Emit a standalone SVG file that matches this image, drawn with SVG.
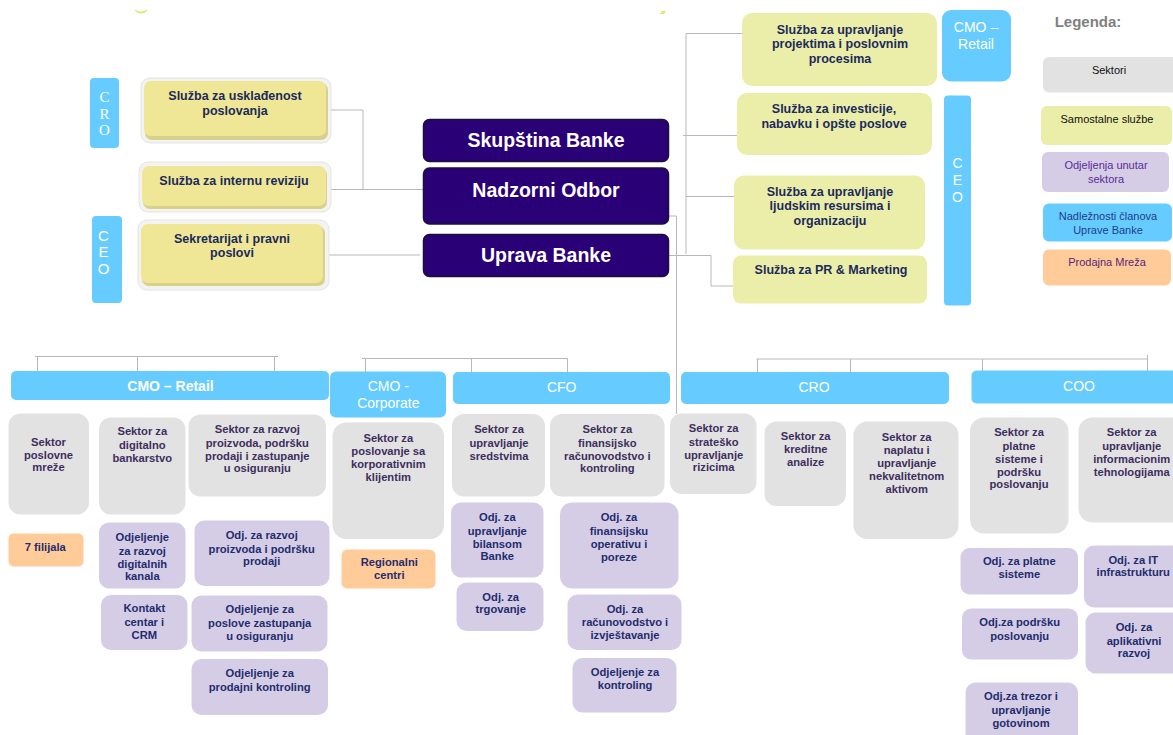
<svg xmlns="http://www.w3.org/2000/svg" width="1173" height="735" viewBox="0 0 1173 735">
<style>
.c{stroke:#b8b8b8;stroke-width:1;fill:none}
.sec{fill:#e2e2e2}
.odj{fill:#d5cde6}
.hdr{fill:#66ccff}
.org{fill:#ffcc99}
.yl{fill:#ebeea9}
.ylo{fill:#f3f3f1;stroke:#e4e4e4;stroke-width:1}
.yls{fill:#d8d18c}
.yli{fill:#efe795}
.dk{fill:#290075;stroke:#1a1038;stroke-width:1.5}
text{font-family:"Liberation Sans",Arial,sans-serif;text-anchor:middle}
.ts{font-size:11.2px;font-weight:bold;fill:#3e2e60}
.to{font-size:11.2px;font-weight:bold;fill:#1f2c6e}
.ty{font-size:12.5px;font-weight:bold;fill:#1b2a5c}
.th{font-size:14px;fill:#ffffff}
.thb{font-size:14px;font-weight:bold;fill:#ffffff}
.tb{font-size:19.5px;font-weight:bold;fill:#ffffff}
.tv{font-size:14px;fill:#ffffff}
.tvs{font-family:"Liberation Serif","Times New Roman",serif;font-size:15px;fill:#ffffff}
.tl{font-size:11px}
</style>
<rect width="1173" height="735" fill="#ffffff"/>
<path d="M134,10 Q141,17 148,10 L146,10 Q141,13.5 136,10 Z" fill="#dfe86e"/>
<path d="M660,14 L662,11 L666,11 L664,14 Z" fill="#dfe86e"/>

<g id="connectors">
<polyline class="c" points="330,110 363,110 363,189"/>
<line class="c" x1="328" y1="189.5" x2="423" y2="189.5"/>
<line class="c" x1="322" y1="255" x2="420" y2="255"/>
<polyline class="c" points="742,33.5 686,33.5 686,254"/>
<line class="c" x1="683" y1="135.5" x2="737" y2="135.5"/>
<line class="c" x1="686" y1="196.5" x2="734" y2="196.5"/>
<polyline class="c" points="668,255.5 711,255.5 711,286 733,286"/>
<polyline class="c" points="668,216 676.5,216 676.5,414"/>
<polyline class="c" points="35,356.5 278,356.5"/>
<line class="c" x1="37.5" y1="356.5" x2="37.5" y2="371"/>
<line class="c" x1="137.5" y1="356.5" x2="137.5" y2="371"/>
<line class="c" x1="274.5" y1="356.5" x2="274.5" y2="371"/>
<polyline class="c" points="362,358.5 567.5,358.5"/>
<line class="c" x1="365.5" y1="358.5" x2="365.5" y2="372"/>
<line class="c" x1="471.5" y1="358.5" x2="471.5" y2="372"/>
<line class="c" x1="567.5" y1="358.5" x2="567.5" y2="372"/>
<polyline class="c" points="756.5,359 1147.5,359"/>
<line class="c" x1="757.5" y1="359" x2="757.5" y2="372"/>
<line class="c" x1="850.5" y1="359" x2="850.5" y2="372"/>
<line class="c" x1="982.5" y1="359" x2="982.5" y2="371"/>
<line class="c" x1="1147.5" y1="355" x2="1147.5" y2="371"/>
</g>

<!-- Left side -->
<g id="cro-left">
<rect class="hdr" x="90" y="78" width="29" height="70" rx="4"/>
<text class="tvs"><tspan x="104.5" y="102">C</tspan><tspan x="104.5" y="118.5">R</tspan><tspan x="104.5" y="134.5">O</tspan></text>
</g>
<g id="usklad">
<rect class="ylo" x="141" y="78" width="190" height="65" rx="9"/>
<rect class="yls" x="145" y="83" width="183" height="57" rx="7"/>
<rect class="yli" x="144" y="81" width="182" height="55" rx="7"/>
<text class="ty"><tspan x="235" y="100">Služba za usklađenost</tspan><tspan x="235" y="115">poslovanja</tspan></text>
</g>
<g id="revizija">
<rect class="ylo" x="139" y="162" width="192" height="50" rx="9"/>
<rect class="yls" x="143" y="168" width="184" height="41" rx="7"/>
<rect class="yli" x="142" y="166" width="184" height="40" rx="7"/>
<text class="ty" x="234" y="185">Služba za internu reviziju</text>
</g>
<g id="ceo-left">
<rect class="hdr" x="92" y="216" width="30" height="87" rx="4"/>
<text class="tv" style="font-size:15px"><tspan x="103.5" y="240.5">C</tspan><tspan x="103.5" y="257">E</tspan><tspan x="103.5" y="273.5">O</tspan></text>
</g>
<g id="sekretarijat">
<rect class="ylo" x="138" y="220" width="191" height="70" rx="9"/>
<rect class="yls" x="142" y="226" width="183" height="60" rx="7"/>
<rect class="yli" x="141" y="224" width="182" height="59" rx="7"/>
<text class="ty"><tspan x="232" y="242.5">Sekretarijat i pravni</tspan><tspan x="232" y="257">poslovi</tspan></text>
</g>

<!-- Center -->
<g id="skupstina">
<rect class="dk" x="423.5" y="119.5" width="245" height="42" rx="6"/>
<text class="tb" x="546" y="147">Skupština Banke</text>
</g>
<g id="nadzorni">
<rect class="dk" x="423.5" y="168" width="245" height="56" rx="6"/>
<text class="tb" x="546" y="197">Nadzorni Odbor</text>
</g>
<g id="uprava">
<rect class="dk" x="423.5" y="234.5" width="245" height="42" rx="6"/>
<text class="tb" x="546" y="262">Uprava Banke</text>
</g>

<!-- Right top -->
<g id="projekti">
<rect class="yl" x="742" y="13" width="195" height="73" rx="10"/>
<text class="ty"><tspan x="840" y="33.5">Služba za upravljanje</tspan><tspan x="840" y="48">projektima i poslovnim</tspan><tspan x="840" y="63">procesima</tspan></text>
</g>
<g id="investicije">
<rect class="yl" x="737" y="93" width="195" height="62" rx="10"/>
<text class="ty"><tspan x="834" y="113">Služba za investicije,</tspan><tspan x="834" y="128">nabavku i opšte poslove</tspan></text>
</g>
<g id="ljudski">
<rect class="yl" x="734" y="175.5" width="191" height="74" rx="10"/>
<text class="ty"><tspan x="830" y="195.5">Služba za upravljanje</tspan><tspan x="830" y="210">ljudskim resursima i</tspan><tspan x="830" y="225">organizaciju</tspan></text>
</g>
<g id="pr">
<rect class="yl" x="733" y="255.5" width="194" height="48" rx="8"/>
<text class="ty" x="831" y="273.5">Služba za PR &amp; Marketing</text>
</g>
<g id="cmo-retail-top">
<rect class="hdr" x="942" y="10" width="69" height="71.5" rx="9"/>
<text class="th"><tspan x="976" y="31.5">CMO –</tspan><tspan x="976" y="49">Retail</tspan></text>
</g>
<g id="ceo-right">
<rect class="hdr" x="944" y="95.5" width="27" height="210" rx="4"/>
<text class="tv"><tspan x="957.5" y="167.5">C</tspan><tspan x="957.5" y="185">E</tspan><tspan x="957.5" y="201.5">O</tspan></text>
</g>

<!-- Legend -->
<g id="legend">
<text x="1088" y="27" style="font-size:15px;font-weight:bold;fill:#7f7f7f">Legenda:</text>
<rect class="sec" x="1043" y="57" width="140" height="35.5" rx="6"/>
<text class="tl" x="1109" y="74" fill="#111111">Sektori</text>
<rect class="yl" x="1041" y="106" width="131" height="39" rx="6"/>
<text class="tl" x="1107" y="123" fill="#111111">Samostalne službe</text>
<rect class="odj" x="1042" y="152" width="127" height="40" rx="6"/>
<text class="tl" fill="#5a2c9a"><tspan x="1106" y="168.5">Odjeljenja unutar</tspan><tspan x="1106" y="182.5">sektora</tspan></text>
<rect class="hdr" x="1043" y="203.5" width="129" height="38" rx="6"/>
<text class="tl" fill="#1d3c8c"><tspan x="1108" y="219.5">Nadležnosti članova</tspan><tspan x="1108" y="233.5">Uprave Banke</tspan></text>
<rect class="org" x="1043" y="249.5" width="128" height="36" rx="6"/>
<text class="tl" x="1107" y="266" fill="#5a1f7a">Prodajna Mreža</text>
</g>

<!-- CMO Retail -->
<g id="hdr-cmo-retail">
<rect class="hdr" x="11" y="371" width="318" height="29" rx="5"/>
<text class="thb" x="170.5" y="391">CMO – Retail</text>
</g>
<g id="sek-poslovne-mreze">
<rect class="sec" x="8.5" y="413.5" width="80.5" height="101" rx="12"/>
<text class="ts"><tspan x="48.5" y="446">Sektor</tspan><tspan x="48.5" y="458.5">poslovne</tspan><tspan x="48.5" y="471">mreže</tspan></text>
</g>
<g id="sek-digitalno">
<rect class="sec" x="99" y="417.5" width="86.5" height="97" rx="12"/>
<text class="ts"><tspan x="142.3" y="435">Sektor za</tspan><tspan x="142.3" y="449">digitalno</tspan><tspan x="142.3" y="461.7">bankarstvo</tspan></text>
</g>
<g id="sek-razvoj">
<rect class="sec" x="188.5" y="414.5" width="137.5" height="82" rx="12"/>
<text class="ts"><tspan x="257.3" y="433.3">Sektor za razvoj</tspan><tspan x="257.3" y="447">proizvoda, podršku</tspan><tspan x="257.3" y="459.7">prodaji i zastupanje</tspan><tspan x="257.3" y="472.3">u osiguranju</tspan></text>
</g>
<g id="filijale">
<rect class="org" x="8.5" y="533.5" width="75" height="33" rx="5"/>
<text class="to" x="45.3" y="550.7">7 filijala</text>
</g>
<g id="odj-digitalni-kanali">
<rect class="odj" x="99" y="522.5" width="86.5" height="66" rx="10"/>
<text class="to"><tspan x="142.3" y="541.3">Odjeljenje</tspan><tspan x="142.3" y="555.3">za razvoj</tspan><tspan x="142.3" y="568">digitalnih</tspan><tspan x="142.3" y="580.3">kanala</tspan></text>
</g>
<g id="odj-kontakt">
<rect class="odj" x="101" y="595" width="86.5" height="55" rx="10"/>
<text class="to"><tspan x="144.3" y="612.3">Kontakt</tspan><tspan x="144.3" y="626">centar i</tspan><tspan x="144.3" y="638.7">CRM</tspan></text>
</g>
<g id="odj-razvoj-proizvoda">
<rect class="odj" x="194.5" y="520.5" width="135" height="65.5" rx="10"/>
<text class="to"><tspan x="261.7" y="539">Odj. za razvoj</tspan><tspan x="261.7" y="552.7">proizvoda i podršku</tspan><tspan x="261.7" y="565.3">prodaji</tspan></text>
</g>
<g id="odj-zastupanje">
<rect class="odj" x="191.5" y="595.5" width="136" height="56" rx="10"/>
<text class="to"><tspan x="259.7" y="612.7">Odjeljenje za</tspan><tspan x="259.7" y="626.7">poslove zastupanja</tspan><tspan x="259.7" y="639.7">u osiguranju</tspan></text>
</g>
<g id="odj-prodajni-kontroling">
<rect class="odj" x="191.5" y="659" width="136.5" height="56" rx="10"/>
<text class="to"><tspan x="259.7" y="677">Odjeljenje za</tspan><tspan x="259.7" y="690.7">prodajni kontroling</tspan></text>
</g>

<!-- CMO Corporate -->
<g id="hdr-cmo-corporate">
<rect class="hdr" x="330" y="371.5" width="116" height="46" rx="6"/>
<text class="th"><tspan x="388.3" y="390.5">CMO -</tspan><tspan x="388.3" y="408">Corporate</tspan></text>
</g>
<g id="sek-korporativni">
<rect class="sec" x="332.5" y="422.5" width="111.5" height="116.5" rx="14"/>
<text class="ts"><tspan x="388.3" y="441.7">Sektor za</tspan><tspan x="388.3" y="455.3">poslovanje sa</tspan><tspan x="388.3" y="468">korporativnim</tspan><tspan x="388.3" y="480.7">klijentim</tspan></text>
</g>
<g id="regionalni">
<rect class="org" x="341.5" y="549.5" width="94" height="39" rx="6"/>
<text class="to"><tspan x="389.3" y="565.7">Regionalni</tspan><tspan x="389.3" y="579.3">centri</tspan></text>
</g>

<!-- CFO -->
<g id="hdr-cfo">
<rect class="hdr" x="453" y="372" width="217" height="32" rx="5"/>
<text class="th" x="561.7" y="391.7">CFO</text>
</g>
<g id="sek-sredstva">
<rect class="sec" x="452" y="414" width="93" height="82.5" rx="12"/>
<text class="ts"><tspan x="499" y="433.3">Sektor za</tspan><tspan x="499" y="447">upravljanje</tspan><tspan x="499" y="459.7">sredstvima</tspan></text>
</g>
<g id="sek-finansijsko">
<rect class="sec" x="550" y="414" width="114.5" height="82.5" rx="12"/>
<text class="ts"><tspan x="607.3" y="433.3">Sektor za</tspan><tspan x="607.3" y="447">finansijsko</tspan><tspan x="607.3" y="459.7">računovodstvo i</tspan><tspan x="607.3" y="472.3">kontroling</tspan></text>
</g>
<g id="odj-bilans">
<rect class="odj" x="451" y="502.5" width="92.5" height="75" rx="10"/>
<text class="to"><tspan x="497.3" y="521">Odj. za</tspan><tspan x="497.3" y="535">upravljanje</tspan><tspan x="497.3" y="547.7">bilansom</tspan><tspan x="497.3" y="560">Banke</tspan></text>
</g>
<g id="odj-trgovanje">
<rect class="odj" x="456.5" y="582.5" width="87" height="48.5" rx="10"/>
<text class="to"><tspan x="500.7" y="600.7">Odj. za</tspan><tspan x="500.7" y="613.3">trgovanje</tspan></text>
</g>
<g id="odj-finansijska-operativa">
<rect class="odj" x="560" y="502.5" width="118.5" height="86" rx="12"/>
<text class="to"><tspan x="619" y="521">Odj. za</tspan><tspan x="619" y="535">finansijsku</tspan><tspan x="619" y="547.7">operativu i</tspan><tspan x="619" y="561.3">poreze</tspan></text>
</g>
<g id="odj-racunovodstvo">
<rect class="odj" x="567.5" y="594.5" width="114" height="55.5" rx="10"/>
<text class="to"><tspan x="625" y="612.7">Odj. za</tspan><tspan x="625" y="626">računovodstvo i</tspan><tspan x="625" y="638.7">izvještavanje</tspan></text>
</g>
<g id="odj-kontroling">
<rect class="odj" x="572.5" y="658" width="104" height="54.5" rx="10"/>
<text class="to"><tspan x="625" y="676">Odjeljenje za</tspan><tspan x="625" y="689">kontroling</tspan></text>
</g>

<!-- CRO -->
<g id="hdr-cro">
<rect class="hdr" x="681" y="372" width="268" height="32" rx="5"/>
<text class="th" x="814" y="391.7">CRO</text>
</g>
<g id="sek-rizici">
<rect class="sec" x="670" y="413.5" width="86.5" height="80.5" rx="12"/>
<text class="ts"><tspan x="713.7" y="432.3">Sektor za</tspan><tspan x="713.7" y="445.7">strateško</tspan><tspan x="713.7" y="458.7">upravljanje</tspan><tspan x="713.7" y="471">rizicima</tspan></text>
</g>
<g id="sek-kreditne">
<rect class="sec" x="764.5" y="421.5" width="81.5" height="84.5" rx="12"/>
<text class="ts"><tspan x="805.7" y="439.7">Sektor za</tspan><tspan x="805.7" y="453">kreditne</tspan><tspan x="805.7" y="466">analize</tspan></text>
</g>
<g id="sek-naplata">
<rect class="sec" x="853.5" y="421.5" width="105" height="117.5" rx="14"/>
<text class="ts"><tspan x="906.7" y="440.7">Sektor za</tspan><tspan x="906.7" y="454">naplatu i</tspan><tspan x="906.7" y="467">upravljanje</tspan><tspan x="906.7" y="480">nekvalitetnom</tspan><tspan x="906.7" y="492.7">aktivom</tspan></text>
</g>

<!-- COO -->
<g id="hdr-coo">
<rect class="hdr" x="971.5" y="370.5" width="215" height="33" rx="5"/>
<text class="th" x="1079" y="390.7">COO</text>
</g>
<g id="sek-platni">
<rect class="sec" x="970" y="417.5" width="98.5" height="116" rx="14"/>
<text class="ts"><tspan x="1019" y="436.3">Sektor za</tspan><tspan x="1019" y="450.3">platne</tspan><tspan x="1019" y="462.7">sisteme i</tspan><tspan x="1019" y="475.7">podršku</tspan><tspan x="1019" y="488.3">poslovanju</tspan></text>
</g>
<g id="sek-it">
<rect class="sec" x="1078.5" y="417.5" width="110" height="105" rx="14"/>
<text class="ts"><tspan x="1131.7" y="436.3">Sektor za</tspan><tspan x="1131.7" y="450">upravljanje</tspan><tspan x="1131.7" y="462.7">informacionim</tspan><tspan x="1131.7" y="476.3">tehnologijama</tspan></text>
</g>
<g id="odj-platni">
<rect class="odj" x="960.5" y="548" width="117.5" height="46.5" rx="9"/>
<text class="to"><tspan x="1019.3" y="564.7">Odj. za platne</tspan><tspan x="1019.3" y="578.3">sisteme</tspan></text>
</g>
<g id="odj-podrska">
<rect class="odj" x="962" y="608.5" width="116" height="51" rx="9"/>
<text class="to"><tspan x="1019.7" y="626">Odj.za podršku</tspan><tspan x="1019.7" y="639.7">poslovanju</tspan></text>
</g>
<g id="odj-trezor">
<rect class="odj" x="965.5" y="682.5" width="112.5" height="65" rx="10"/>
<text class="to"><tspan x="1021" y="700.3">Odj.za trezor i</tspan><tspan x="1021" y="714">upravljanje</tspan><tspan x="1021" y="726.7">gotovinom</tspan></text>
</g>
<g id="odj-it-infra">
<rect class="odj" x="1084" y="545.5" width="100" height="62" rx="10"/>
<text class="to"><tspan x="1133.3" y="563.7">Odj. za IT</tspan><tspan x="1133.3" y="576.3">infrastrukturu</tspan></text>
</g>
<g id="odj-aplikativni">
<rect class="odj" x="1085.5" y="612.5" width="100" height="61" rx="10"/>
<text class="to"><tspan x="1134" y="630.7">Odj. za</tspan><tspan x="1134" y="644.7">aplikativni</tspan><tspan x="1134" y="657.3">razvoj</tspan></text>
</g>
</svg>
